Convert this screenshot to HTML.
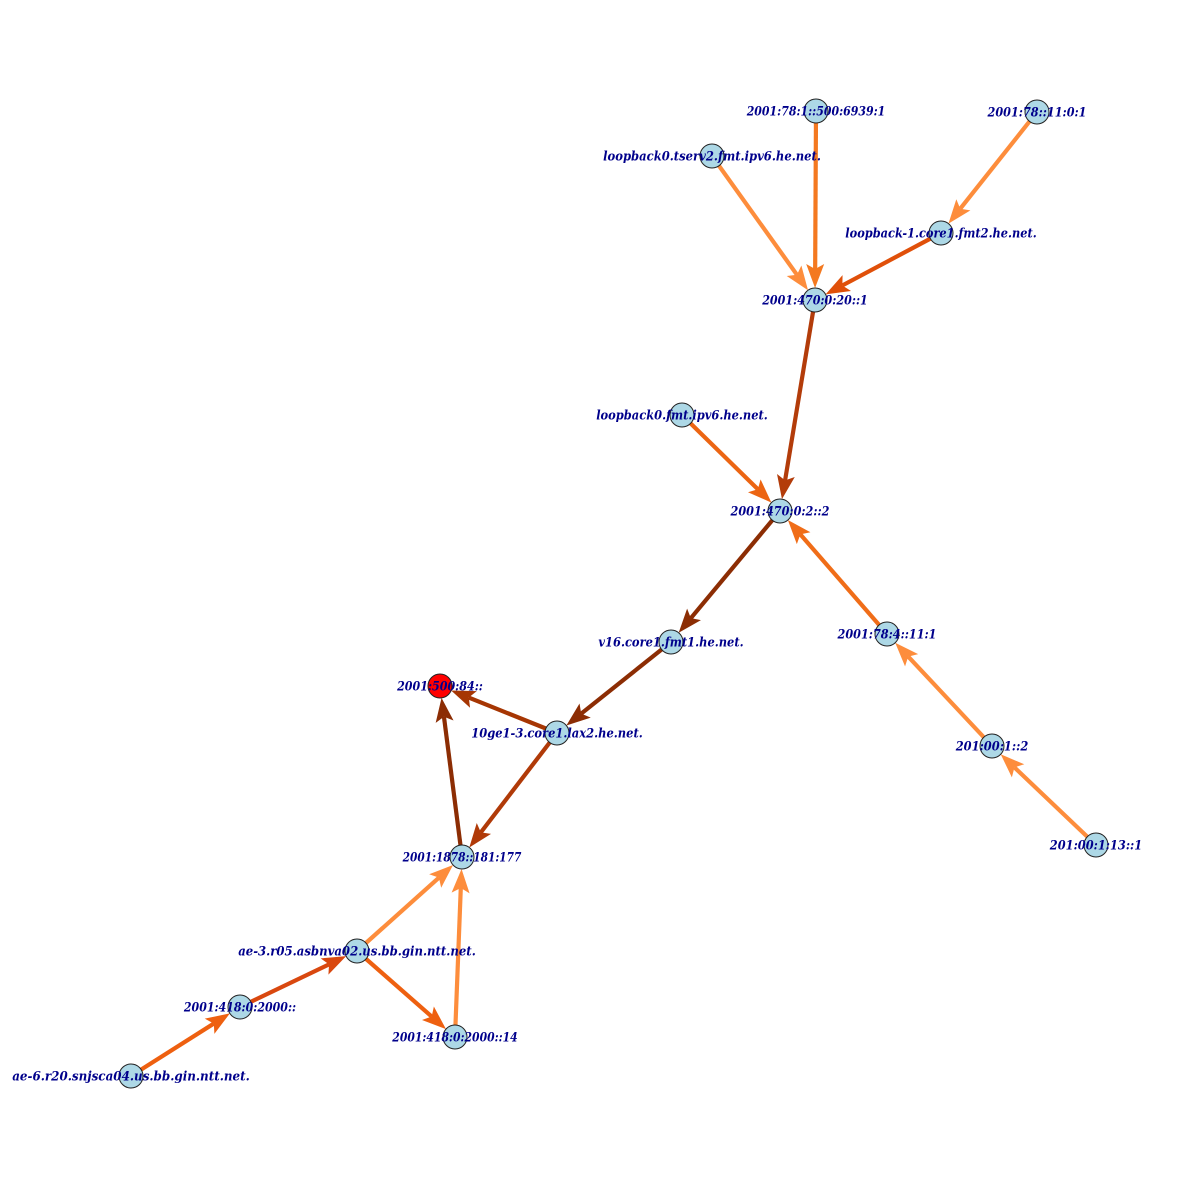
<!DOCTYPE html>
<html><head><meta charset="utf-8"><style>html,body{margin:0;padding:0;background:#fff}svg{display:block}</style></head>
<body>
<svg id="s" width="1200" height="1200" xmlns="http://www.w3.org/2000/svg"></svg>
<script>
const N={
a:[816,111,"2001:78:1::500:6939:1"],
b:[1037,112,"2001:78::11:0:1"],
c:[712,156,"loopback0.tserv2.fmt.ipv6.he.net."],
d:[941,233,"loopback-1.core1.fmt2.he.net."],
e:[815,300,"2001:470:0:20::1"],
f:[682,415,"loopback0.fmt.ipv6.he.net."],
g:[780,511,"2001:470:0:2::2"],
h:[671,642,"v16.core1.fmt1.he.net."],
i:[887,634,"2001:78:4::11:1"],
j:[440,686,"2001:500:84::"],
k:[557,733,"10ge1-3.core1.lax2.he.net."],
l:[992,746,"201:00:1::2"],
m:[1096,845,"201:00:1:13::1"],
n:[462,857,"2001:1878::181:177"],
o:[357,951,"ae-3.r05.asbnva02.us.bb.gin.ntt.net."],
p:[240,1007,"2001:418:0:2000::"],
q:[455,1037,"2001:418:0:2000::14"],
r:[131,1076,"ae-6.r20.snjsca04.us.bb.gin.ntt.net."]};
const E=[["a","e","#f47920"],["b","d","#fd8d3c"],["c","e","#fd8d3c"],["d","e","#e0500a"],["e","g","#b33c0a"],
["f","g","#ec6513"],["i","g","#f06d18"],["g","h","#8c2d04"],["h","k","#8c2d04"],["k","j","#a63603"],
["k","n","#b03a08"],["n","j","#8c2d04"],["o","n","#fd8d3c"],["q","n","#fd8d3c"],["o","q","#ee6010"],
["p","o","#d9480f"],["r","p","#ee6010"],["l","i","#fd8d3c"],["m","l","#fd8d3c"]];
let s="";
for(const [u,v,c] of E){const [x1,y1]=N[u],[x2,y2]=N[v];const dx=x2-x1,dy=y2-y1,L=Math.hypot(dx,dy),ux=dx/L,uy=dy/L,px=-uy,py=ux;
const tx=x2-ux*12,ty=y2-uy*12,bx=tx-ux*24,by=ty-uy*24,nx=tx-ux*19,ny=ty-uy*19;
s+=`<line x1="${x1}" y1="${y1}" x2="${nx}" y2="${ny}" stroke="${c}" stroke-width="4.2"/>`;
s+=`<path d="M${tx},${ty}L${bx+px*9},${by+py*9}L${nx},${ny}L${bx-px*9},${by-py*9}Z" fill="${c}"/>`;}
for(const k in N){const [x,y]=N[k];s+=`<circle cx="${x}" cy="${y}" r="12" fill="${k=='j'?'#ff0000':'#add8e6'}" stroke="#222" stroke-width="1"/>`;}
for(const k in N){const [x,y,t]=N[k];s+=`<text x="${x}" y="${y+4.5}" text-anchor="middle" font-family="DejaVu Serif, serif" font-weight="bold" font-style="italic" font-size="13" fill="#00008b" textLength="${t.length*6.6}" lengthAdjust="spacingAndGlyphs">${t}</text>`;}
document.getElementById("s").innerHTML=s;
</script>
</body></html>
